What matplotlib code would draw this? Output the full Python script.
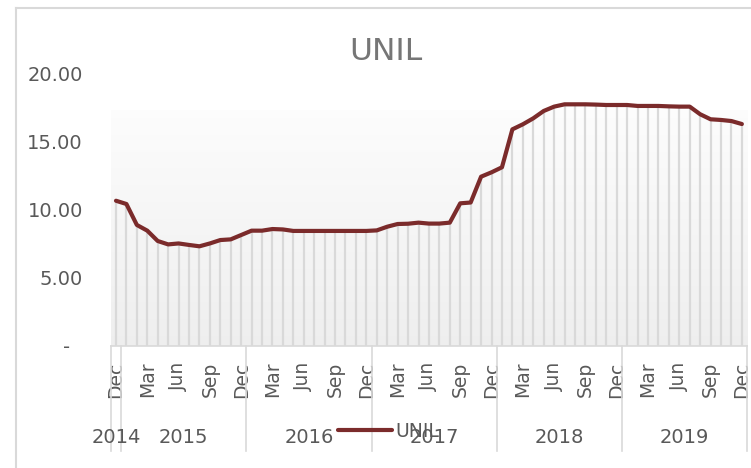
import numpy as np
import matplotlib
matplotlib.use("Agg")
import matplotlib.pyplot as plt
from matplotlib.lines import Line2D
import matplotlib.transforms as mtransforms

# monthly values, Dec 2014 .. Dec 2019
unil = [10.68, 10.44, 8.90, 8.48, 7.72, 7.47, 7.54, 7.43, 7.33, 7.54, 7.79, 7.84,
        8.16, 8.48, 8.48, 8.60, 8.57, 8.46, 8.46, 8.46, 8.46, 8.46, 8.46, 8.46,
        8.46, 8.50, 8.77, 8.97, 8.99, 9.07, 9.00, 9.00, 9.07, 10.49, 10.55, 12.45,
        12.77, 13.14, 15.93, 16.30, 16.74, 17.28, 17.60, 17.77, 17.77, 17.77, 17.75,
        17.72, 17.72, 17.72, 17.65, 17.65, 17.65, 17.62, 17.60, 17.60, 17.04, 16.67,
        16.62, 16.54, 16.32]
month_ticks = [0, 3, 6, 9, 12, 15, 18, 21, 24, 27, 30, 33, 36, 39, 42, 45, 48, 51, 54, 57, 60]
month_labels = ["Dec", "Mar", "Jun", "Sep"] * 5 + ["Dec"]
years = ["2014", "2015", "2016", "2017", "2018", "2019"]
year_start = [0, 1, 13, 25, 37, 49]
year_end = [0, 12, 24, 36, 48, 60]

line_color = "#7b2b2b"
text_color = "#595959"
grid_color = "#d9d9d9"

fig = plt.figure(figsize=(7.51, 4.68), dpi=100)
ax = fig.add_axes([0.1475, 0.2607, 0.8473, 0.5812])

x = np.arange(len(unil))

# soft grey gradient behind the series
grad = np.linspace(0.99, 0.935, 256).reshape(-1, 1)
grad = np.dstack([grad, grad, grad])
ax.imshow(grad, extent=[-0.5, len(unil) - 0.5, 0, 17.3], aspect="auto",
          origin="upper", zorder=0, interpolation="bilinear")

ax.vlines(x, 0, unil, color=grid_color, lw=1.6, zorder=1)
line, = ax.plot(x, unil, color=line_color, lw=3, zorder=3,
                solid_joinstyle="round", solid_capstyle="round")

ax.set_xlim(-0.5, len(unil) - 0.5)
ax.set_ylim(0, 20)
ax.set_yticks([0, 5, 10, 15, 20])
ax.set_yticklabels(["-  ", "5.00", "10.00", "15.00", "20.00"])
ax.set_xticks(month_ticks)
ax.set_xticklabels(month_labels, rotation=90)
ax.tick_params(axis="y", length=0, pad=20, labelsize=14, labelcolor=text_color)
ax.tick_params(axis="x", length=0, pad=11, labelsize=13.5, labelcolor=text_color)

for side in ["top", "right", "left"]:
    ax.spines[side].set_visible(False)
ax.spines["bottom"].set_color(grid_color)
ax.spines["bottom"].set_linewidth(1.2)
ax.spines["bottom"].set_zorder(4)

# year group labels and separators below the month labels
trans = mtransforms.blended_transform_factory(ax.transData, ax.transAxes)
bounds = [year_start[0] - 0.5] + [e + 0.5 for e in year_end]
for b in bounds:
    ax.plot([b, b], [0, -0.386], transform=trans, color=grid_color, lw=1.2,
            clip_on=False)
for name, s, e in zip(years, year_start, year_end):
    ax.text((s + e) / 2, -0.335, name, transform=trans, ha="center", va="center",
            fontsize=14, color=text_color, clip_on=False)

fig.text(0.514, 0.89, "UNIL", ha="center", va="center", fontsize=22.5, color="#767676")

fig.legend(handles=[line], labels=["UNIL"], loc="center left",
           bbox_to_anchor=(0.45, 0.079), frameon=False, handlelength=2.9,
           handletextpad=0.15, borderpad=0, borderaxespad=0,
           fontsize=13.5, labelcolor=text_color)

# chart frame (top and left edges visible)
fig.add_artist(Line2D([16 / 751, 16 / 751], [0, 1 - 8 / 468], transform=fig.transFigure,
                      color=grid_color, lw=1.5))
fig.add_artist(Line2D([16 / 751, 1], [1 - 8 / 468, 1 - 8 / 468], transform=fig.transFigure,
                      color=grid_color, lw=1.5))

fig.savefig("out.png", dpi=100)
